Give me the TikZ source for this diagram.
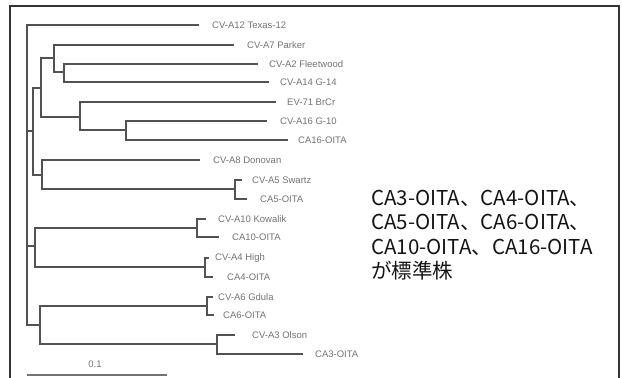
\documentclass[tikz,border=0pt]{standalone}
\usepackage{fontspec}
\setmainfont{Liberation Sans}
\newfontfamily\jpfont{Noto Sans CJK JP}
\begin{document}
\begin{tikzpicture}[x=1pt,y=-1pt,
  br/.style={draw=black!68, line width=1.3pt, line cap=rect},
  lab/.style={anchor=west, inner sep=0pt, text=black!55, font=\fontsize{9.5}{10}\selectfont},
  note/.style={anchor=base west, inner sep=0pt, text=black!92, font=\jpfont\fontsize{20.5}{21}\selectfont},
  frm/.style={draw=black!80, line width=1.2pt}]
\useasboundingbox (0,0) rectangle (622,378);
% frame
\coordinate (f1) at (10,378);
\coordinate (f2) at (10,6);
\coordinate (f3) at (619,6);
\coordinate (f4) at (619,378);
\draw[frm] (f1) -- (f2) -- (f3) -- (f4);
% internal nodes
\coordinate (R) at (27,175);
\coordinate (N1) at (33,131);
\coordinate (N2) at (41,88);
\coordinate (N3) at (54,58);
\coordinate (N4) at (64,72);
\coordinate (N5) at (80,117);
\coordinate (N6) at (126,130);
\coordinate (N7) at (42,175);
\coordinate (N8) at (235,189);
\coordinate (N9) at (35,246);
\coordinate (N10) at (197,228);
\coordinate (N11) at (205,267);
\coordinate (N12) at (40,325);
\coordinate (N13) at (207,306);
\coordinate (N14) at (217,344);
% leaf tips
\coordinate (t1) at (198,25);
\coordinate (t2) at (233,45);
\coordinate (t3) at (257,64);
\coordinate (t4) at (268,82);
\coordinate (t5) at (275,102);
\coordinate (t6) at (266,121);
\coordinate (t7) at (287,140);
\coordinate (t8) at (199,160);
\coordinate (t9) at (241,180);
\coordinate (t10) at (246,199);
\coordinate (t11) at (205,219);
\coordinate (t12) at (218,237);
\coordinate (t13) at (208,258);
\coordinate (t14) at (212,277);
\coordinate (t15) at (212,297);
\coordinate (t16) at (213,315);
\coordinate (t17) at (234,335);
\coordinate (t18) at (302,354);
% branches
\foreach \p/\c in {R/t1,R/N1,R/N9,R/N12,
  N1/N2,N1/N7,N2/N3,N2/N5,N3/t2,N3/N4,N4/t3,N4/t4,
  N5/t5,N5/N6,N6/t6,N6/t7,N7/t8,N7/N8,N8/t9,N8/t10,
  N9/N10,N9/N11,N10/t11,N10/t12,N11/t13,N11/t14,
  N12/N13,N12/N14,N13/t15,N13/t16,N14/t17,N14/t18}
  \draw[br] (\p) |- (\c);
% labels
\node[lab] (l1) at (212,25) {CV-A12 Texas-12};
\node[lab] (l2) at (247,45) {CV-A7 Parker};
\node[lab] (l3) at (269,64) {CV-A2 Fleetwood};
\node[lab] (l4) at (280,82) {CV-A14 G-14};
\node[lab] (l5) at (287,102) {EV-71 BrCr};
\node[lab] (l6) at (280,121) {CV-A16 G-10};
\node[lab] (l7) at (298,140) {CA16-OITA};
\node[lab] (l8) at (213,160) {CV-A8 Donovan};
\node[lab] (l9) at (252,180) {CV-A5 Swartz};
\node[lab] (l10) at (260,199) {CA5-OITA};
\node[lab] (l11) at (218,219) {CV-A10 Kowalik};
\node[lab] (l12) at (232,237) {CA10-OITA};
\node[lab] (l13) at (215,258) {CV-A4 High};
\node[lab] (l14) at (227,277) {CA4-OITA};
\node[lab] (l15) at (218,297) {CV-A6 Gdula};
\node[lab] (l16) at (223,315) {CA6-OITA};
\node[lab] (l17) at (252,335) {CV-A3 Olson};
\node[lab] (l18) at (315,354) {CA3-OITA};
% scale bar
\coordinate (s1) at (27,375);
\coordinate (s2) at (167,375);
\draw[draw=black!55, line width=1.6pt] (s1) -- (s2);
\node[lab, anchor=center] (sl) at (95,364) {0.1};
% note
\node[note] (n1) at (371,205) {CA3-OITA、CA4-OITA、};
\node[note] (n2) at (371,229.5) {CA5-OITA、CA6-OITA、};
\node[note] (n3) at (371,254) {CA10-OITA、CA16-OITA};
\node[note] (n4) at (371,278.5) {が標準株};
\end{tikzpicture}
\end{document}
